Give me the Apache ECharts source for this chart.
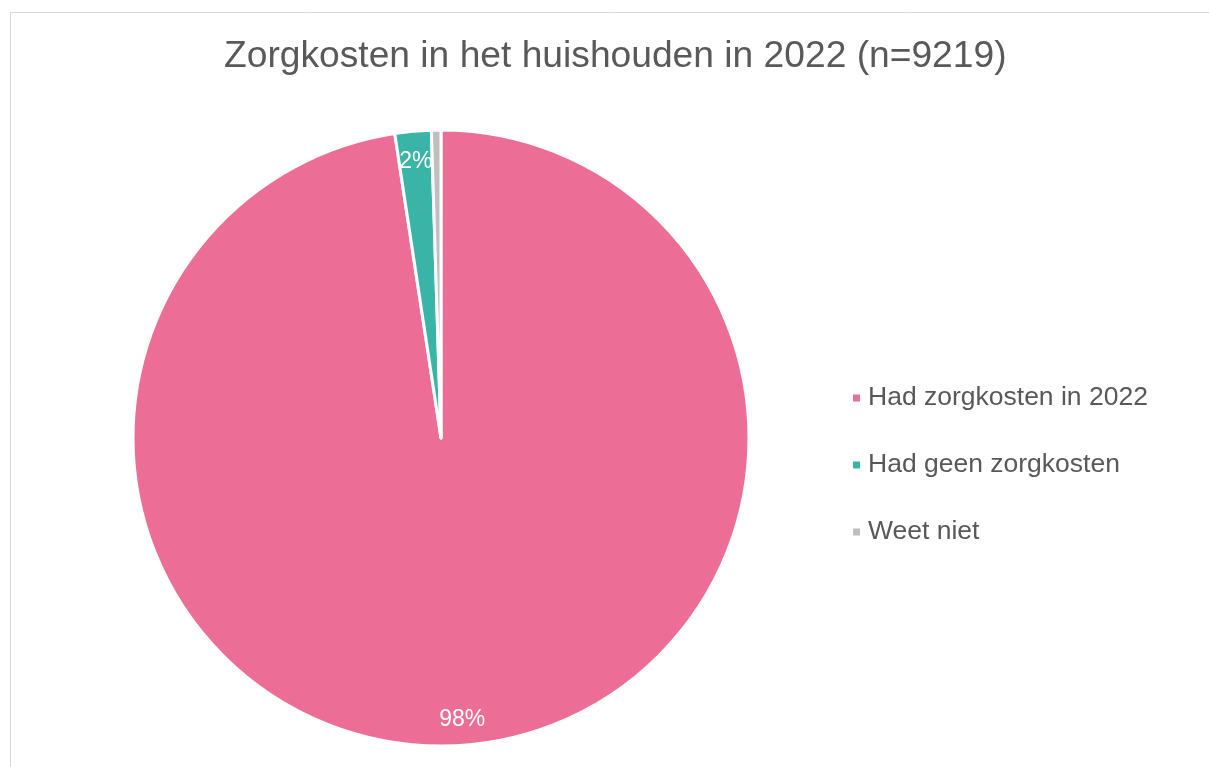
<!DOCTYPE html>
<html>
<head>
<meta charset="utf-8">
<title>Zorgkosten in het huishouden in 2022</title>
<script src="https://cdn.jsdelivr.net/npm/echarts@6/dist/echarts.min.js"></script>
<style>
	html, body { margin: 0; padding: 0; background: #fff; }
	#zorg_chart { width: 1209px; height: 767px; }
</style>
</head>
<body>
<div id="zorg_chart"></div>
<script>
var
// categorieen en aandelen (procent van n=9219)
categories = ['Had zorgkosten in 2022', 'Had geen zorgkosten', 'Weet niet'],
shares = [97.6, 1.9, 0.5],
sliceColors = ['#ec6e96', '#3ab4a7', '#bfbfbf'],
titleText = 'Zorgkosten in het huishouden in 2022 (n=9219)',

fontFam = '"Liberation Sans", Arial, Helvetica, sans-serif',

buildData = function() {
	var d = [];
	for (var i = 0; i < categories.length; i++) {
		d.push({ name: categories[i], value: shares[i], itemStyle: { color: sliceColors[i] } });
	}
	return d;
},

// label: afgerond percentage, alleen voor gekozen segment, 0% niet tonen
labelFmtFor = function(idx) {
	return function(p) {
		var v = Math.round(p.percent);
		return (p.dataIndex === idx && v > 0) ? v + '%' : '';
	};
},

// transparante ring, alleen om labels dicht bij de rand te zetten
labelRing = function(inner, idx) {
	return {
		name: 'labels' + idx,
		type: 'pie',
		center: [441, 438],
		radius: [inner, 308],
		startAngle: 90,
		clockwise: true,
		silent: true,
		legendHoverLink: false,
		itemStyle: { color: 'rgba(0,0,0,0)', borderWidth: 0 },
		label: {
			show: true,
			position: 'inside',
			formatter: labelFmtFor(idx),
			fontFamily: fontFam,
			fontSize: 23,
			color: '#ffffff'
		},
		labelLine: { show: false },
		emphasis: { disabled: true },
		data: categories.map(function(c, i) { return { name: c + ' ' + idx, value: shares[i] }; })
	};
},

drawChart = function() {
	var chart = echarts.init(document.getElementById('zorg_chart'));
	var option = {
		animation: false,
		title: {
			text: titleText,
			left: 219,
			top: 33,
			textStyle: {
				fontFamily: fontFam,
				fontSize: 37.2,
				fontWeight: 'normal',
				color: '#595959'
			}
		},
		legend: {
			orient: 'vertical',
			left: 846,
			top: 378,
			icon: 'rect',
			itemWidth: 9,
			itemHeight: 9,
			itemGap: 37,
			data: categories,
			textStyle: {
				fontFamily: fontFam,
				fontSize: 26.5,
				lineHeight: 30,
				color: '#595959',
				padding: [0, 0, 0, 2]
			}
		},
		graphic: [{
			type: 'rect',
			silent: true,
			shape: { x: 10.5, y: 12.5, width: 1400, height: 900 },
			style: { fill: 'none', stroke: '#d9d9d9', lineWidth: 1 }
		}],
		series: [{
			name: 'zorgkosten',
			type: 'pie',
			center: [441, 438],
			radius: 308,
			startAngle: 90,
			clockwise: true,
			itemStyle: { borderColor: '#fff', borderWidth: 3 },
			label: { show: false },
			labelLine: { show: false },
			emphasis: { disabled: true },
			data: buildData()
		},
		labelRing(250, 0),
		labelRing(240, 1)]
	};
	chart.setOption(option);
};

drawChart();
</script>
</body>
</html>
